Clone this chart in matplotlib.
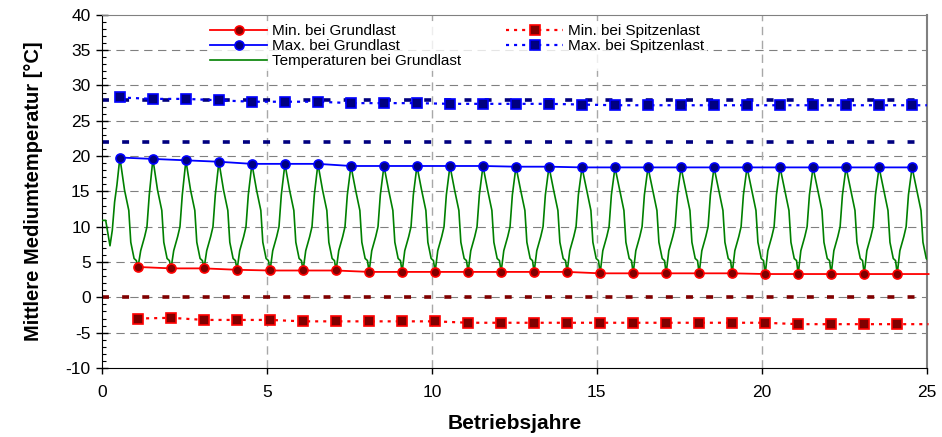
import matplotlib
matplotlib.use("Agg")
import matplotlib.pyplot as plt
from matplotlib.ticker import MultipleLocator

plt.rcParams['font.family'] = ['Liberation Sans', 'DejaVu Sans']
plt.rcParams['lines.scale_dashes'] = False
plt.rcParams['axes.unicode_minus'] = False

# Zeitpunkte der Extremwerte (Betriebsjahre)
max_years = [0.55, 1.55, 2.55, 3.55, 4.55, 5.55, 6.55, 7.55, 8.55, 9.55, 10.55, 11.55,
             12.55, 13.55, 14.55, 15.55, 16.55, 17.55, 18.55, 19.55, 20.55, 21.55,
             22.55, 23.55, 24.55]
min_years = [1.1, 2.1, 3.1, 4.1, 5.1, 6.1, 7.1, 8.1, 9.1, 10.1, 11.1, 12.1, 13.1,
             14.1, 15.1, 16.1, 17.1, 18.1, 19.1, 20.1, 21.1, 22.1, 23.1, 24.1]

max_grund = [19.8, 19.6, 19.4, 19.2, 18.9, 18.9, 18.9, 18.6, 18.6, 18.6, 18.6, 18.6,
             18.5, 18.5, 18.4, 18.4, 18.4, 18.4, 18.4, 18.4, 18.4, 18.4, 18.4, 18.4, 18.4]
min_grund = [4.3, 4.1, 4.1, 3.9, 3.8, 3.8, 3.8, 3.6, 3.6, 3.6, 3.6, 3.6, 3.6, 3.6,
             3.4, 3.4, 3.4, 3.4, 3.4, 3.3, 3.3, 3.3, 3.3, 3.3]
max_spitze = [28.3, 28.1, 28.1, 27.9, 27.7, 27.7, 27.7, 27.5, 27.5, 27.5, 27.4, 27.4,
              27.4, 27.4, 27.3, 27.2, 27.2, 27.2, 27.2, 27.2, 27.2, 27.2, 27.2, 27.2, 27.2]
min_spitze = [-3.0, -2.9, -3.2, -3.2, -3.2, -3.4, -3.4, -3.4, -3.4, -3.4, -3.6, -3.6,
              -3.6, -3.6, -3.6, -3.6, -3.6, -3.6, -3.6, -3.6, -3.8, -3.8, -3.8, -3.8]

# Verlauf der Temperatur bei Grundlast (zwischen Min und Max)
start_t = [0.0, 0.12, 0.25, 0.32, 0.39, 0.46]
start_y = [10.9, 10.9, 7.3, 9.5, 13.5, 15.9]
fall_dt = [0.14, 0.27, 0.33, 0.43, 0.50]
fall_y = [15.2, 12.3, 7.8, 5.5, 5.2]
rise_dt = [0.08, 0.20, 0.27, 0.34]
rise_y = [6.6, 8.6, 10.0, 14.5]

# Grenzwerte
limits_blue = [28, 22]
limit_red = 0

gt, gy = list(start_t), list(start_y)
for i in range(len(max_years)):
    gt.append(max_years[i]); gy.append(max_grund[i])
    for dt, v in zip(fall_dt, fall_y):
        gt.append(max_years[i] + dt); gy.append(v)
    if i < len(min_years):
        gt.append(min_years[i]); gy.append(min_grund[i])
        for dt, v in zip(rise_dt, rise_y):
            gt.append(min_years[i] + dt); gy.append(v)

fig = plt.figure(figsize=(9.42, 4.37), dpi=100)
ax = fig.add_axes([0.108, 0.158, 0.876, 0.808])

for y in range(-5, 40, 5):
    ax.axhline(y, color='#808080', lw=0.8, dashes=(6, 4), zorder=1)
for x in range(5, 25, 5):
    ax.axvline(x, color='#a8a8a8', lw=1.0, dashes=(6, 4), zorder=1)

for y in limits_blue:
    ax.axhline(y, color='#000080', lw=2.6, dashes=(5, 9.5), zorder=2)
ax.axhline(limit_red, color='#800000', lw=2.6, dashes=(5, 9.5), zorder=2)

temp, = ax.plot(gt, gy, color='#008000', lw=1.2, zorder=3,
                label='Temperaturen bei Grundlast')

mg, = ax.plot(min_years + [25.05], min_grund + [min_grund[-1]], color='#ff0000', lw=1.3,
              marker='o', ms=6.5, mfc='#800000', mec='#ff0000', mew=1.2,
              markevery=list(range(len(min_years))), zorder=4, clip_on=False,
              label='Min. bei Grundlast')
xg, = ax.plot(max_years, max_grund, color='#0000ff', lw=1.3,
              marker='o', ms=6.5, mfc='#000080', mec='#0000ff', mew=1.2,
              zorder=4, label='Max. bei Grundlast')
ms_, = ax.plot(min_years + [25.05], min_spitze + [min_spitze[-1]], color='#ff0000', lw=1.6,
               dashes=(2.2, 3.6), marker='s', ms=6.5, mfc='#800000', mec='#ff0000',
               mew=1.2, markevery=list(range(len(min_years))), zorder=4, clip_on=False,
               label='Min. bei Spitzenlast')
xs, = ax.plot(max_years + [25.0], max_spitze + [max_spitze[-1]], color='#0000ff', lw=1.6,
              dashes=(2.2, 3.6), marker='s', ms=6.5, mfc='#000080', mec='#0000ff',
              mew=1.2, markevery=list(range(len(max_years))), zorder=4,
              label='Max. bei Spitzenlast')

ax.set_xlim(0, 25)
ax.set_ylim(-10, 40)
ax.xaxis.set_major_locator(MultipleLocator(5))
ax.yaxis.set_major_locator(MultipleLocator(5))
ax.yaxis.set_minor_locator(MultipleLocator(1))
ax.tick_params(axis='y', which='major', direction='inout', length=8, width=1,
               labelsize=12.5, pad=4)
ax.tick_params(axis='y', which='minor', direction='in', length=3, width=0.8)
ax.tick_params(axis='x', which='major', direction='out', length=4, width=1,
               labelsize=12.5, pad=8)

ax.spines['top'].set_color('#808080')
ax.spines['right'].set_color('#808080')
ax.spines['right'].set_linewidth(1.5)
ax.spines['left'].set_color('black')
ax.spines['bottom'].set_color('black')

ax.set_xlabel('Betriebsjahre', fontsize=15, fontweight='bold', labelpad=10)
ax.set_ylabel('Mittlere Mediumtemperatur [°C]', fontsize=14.5, fontweight='bold',
              labelpad=16)

leg = ax.legend(handles=[mg, xg, temp, ms_, xs], ncol=2, loc='upper left',
                bbox_to_anchor=(0.128, 0.982), fontsize=11, frameon=True,
                facecolor='white', edgecolor='none', fancybox=False,
                handlelength=3.7, handletextpad=0.3, columnspacing=3.0,
                labelspacing=0.06, borderpad=0.2, borderaxespad=0)
leg.set_zorder(5)

fig.savefig('out.png', dpi=100)
